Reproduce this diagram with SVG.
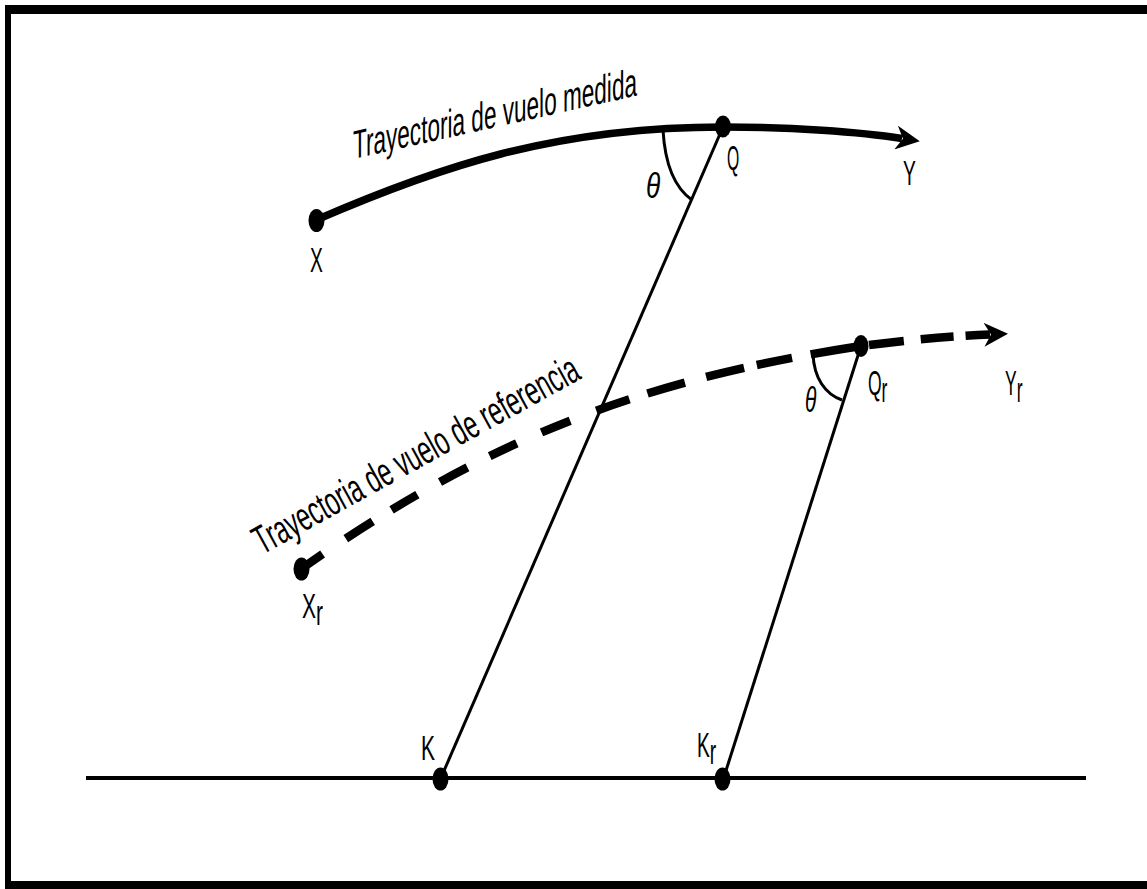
<svg xmlns="http://www.w3.org/2000/svg" width="1147" height="889" viewBox="0 0 1147 889">
<defs>
<style>
.lbl{font-family:"Liberation Sans",Arial,sans-serif;font-size:35px;fill:#000}
.ttl{font-family:"Liberation Sans",Arial,sans-serif;font-size:40px;fill:#000}
.thin{fill:none;stroke:#000;stroke-width:3}
.thick{fill:none;stroke:#000;stroke-width:7.5}
.dash{fill:none;stroke:#000;stroke-width:8.5;stroke-linecap:butt}
.dot{fill:#000}
.frame{fill:#000}
</style>
<marker id="arrow" markerUnits="userSpaceOnUse" viewBox="0 0 24 24" refX="6" refY="12" markerWidth="24" markerHeight="24" orient="auto">
<path d="M0,0 L24,12 L0,24 L7,12 Z" fill="#000"/>
</marker>
</defs>
<rect x="0" y="0" width="1147" height="889" fill="#fff"/>
<g id="frame">
<rect class="frame" x="5" y="5" width="1142" height="9"/>
<rect class="frame" x="5" y="5" width="6" height="884"/>
<rect class="frame" x="5" y="881" width="1142" height="8"/>
</g>
<g id="connectors">
<path id="ground" d="M86,778 L1086,778" fill="none" stroke="#000" stroke-width="4"/>
<path id="measured-path" class="thick" d="M316,220 C436,168 553,127 723,127 C790,127 860,132 902,138.5" marker-end="url(#arrow)"/>
<path id="reference-path" class="dash" d="M301,569 C501,429 660,377 861,346" stroke-dasharray="26 28 32 22 30 26 31 25 30 27 31 28 35 19 39 22 39 13 36 19 70"/>
<path id="reference-path-end" class="dash" d="M861,346 Q930,337 990,334.5" stroke-dasharray="0 8 35 17 33 12 40" marker-end="url(#arrow)"/>
<path id="Q-K" class="thin" d="M723,127 L440,780"/>
<path id="Qr-Kr" class="thin" d="M861,346 L723,780"/>
<path id="theta-arc" class="thin" d="M663,130 C665,165 675,188 692,200"/>
<path id="theta-arc-r" class="thin" d="M813,354 C814,378 825,394 842,400"/>
</g>
<g id="label-measured">
<text class="ttl" transform="translate(353,159) skewY(-12.6)" textLength="284" lengthAdjust="spacingAndGlyphs">Trayectoria de vuelo medida</text>
</g>
<g id="label-reference">
<text class="ttl" transform="translate(262,555) rotate(-28.9)" textLength="366" lengthAdjust="spacingAndGlyphs">Trayectoria de vuelo de referencia</text>
</g>
<g id="node-X">
<ellipse class="dot" cx="316.5" cy="220.5" rx="8" ry="11.5"/>
<text class="lbl" transform="translate(310,272) scale(0.55,1)">X</text>
</g>
<g id="node-Q">
<ellipse class="dot" cx="723" cy="126.5" rx="8" ry="11"/>
<text class="lbl" transform="translate(727,170) scale(0.45,1)">Q</text>
<text class="lbl" font-style="italic" transform="translate(646,198) scale(0.75,1)">θ</text>
</g>
<g id="node-Y">
<text class="lbl" transform="translate(903,185) scale(0.55,1)">Y</text>
</g>
<g id="node-Xr">
<ellipse class="dot" cx="301.5" cy="569" rx="8" ry="11.5"/>
<text class="lbl" transform="translate(302,618) scale(0.6,1)">X<tspan dy="7">r</tspan></text>
</g>
<g id="node-Qr">
<ellipse class="dot" cx="861" cy="346" rx="7.5" ry="11"/>
<text class="lbl" transform="translate(868,395) scale(0.5,1)">Q<tspan dy="7">r</tspan></text>
<text class="lbl" font-style="italic" transform="translate(805,412) scale(0.6,1)">θ</text>
</g>
<g id="node-Yr">
<text class="lbl" transform="translate(1005,395) scale(0.5,1)">Y<tspan dy="7">r</tspan></text>
</g>
<g id="node-K">
<ellipse class="dot" cx="440.5" cy="779" rx="8" ry="11.5"/>
<text class="lbl" transform="translate(421,760) scale(0.6,1)">K</text>
</g>
<g id="node-Kr">
<ellipse class="dot" cx="722.5" cy="779" rx="8" ry="11.5"/>
<text class="lbl" transform="translate(697,757) scale(0.55,1)">K<tspan dy="7">r</tspan></text>
</g>
</svg>
